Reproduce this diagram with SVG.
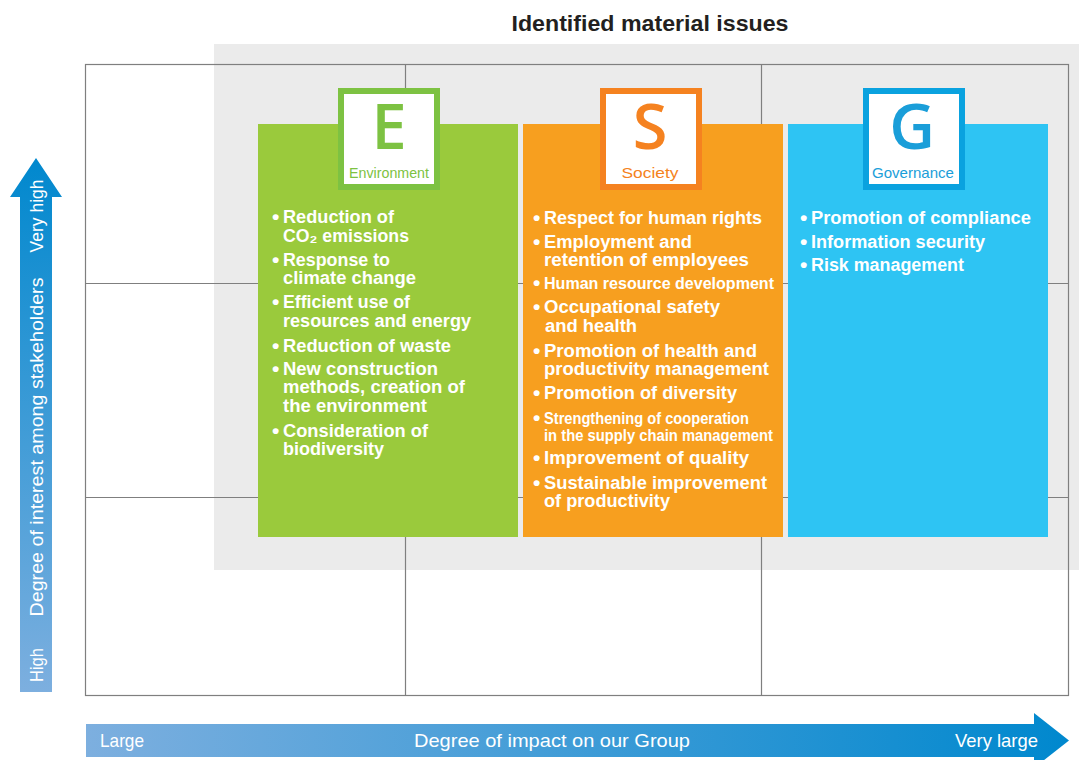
<svg xmlns="http://www.w3.org/2000/svg" width="1079" height="760" viewBox="0 0 1079 760">
  <defs>
    <linearGradient id="gv" x1="0" y1="1" x2="0" y2="0">
      <stop offset="0" stop-color="#7DAFDF"/>
      <stop offset="1" stop-color="#0088CE"/>
    </linearGradient>
    <linearGradient id="gh" x1="0" y1="0" x2="1" y2="0">
      <stop offset="0" stop-color="#7DAFDF"/>
      <stop offset="1" stop-color="#0088CE"/>
    </linearGradient>
    <style>
      .grid { fill: none; stroke: #7f7f7f; stroke-width: 1.2; }
      .item { font-family: "Liberation Sans", Arial, sans-serif; font-weight: bold; font-size: 18px; fill: #ffffff; }
      .small { font-size: 16px; }
      .bul { font-family: "Liberation Sans", Arial, sans-serif; font-weight: bold; font-size: 21px; fill: #ffffff; }
      .letter { font-family: "Open Sans", "Liberation Sans", sans-serif; font-weight: 600; font-size: 63px; text-anchor: middle; }
      .lab { font-family: "Liberation Sans", Arial, sans-serif; font-size: 14.5px; text-anchor: middle; }
      .axis { font-family: "Liberation Sans", Arial, sans-serif; font-size: 19px; fill: #ffffff; }
      .title { font-family: "Liberation Sans", Arial, sans-serif; font-weight: bold; font-size: 22px; fill: #231f20; text-anchor: middle; }
    </style>
  </defs>

  <rect width="1079" height="760" fill="#ffffff"/>

  <g id="material-area">
    <rect x="214" y="44" width="865" height="526" fill="#ebebeb"/>
    <text class="title" x="650" y="31" textLength="277" lengthAdjust="spacingAndGlyphs">Identified material issues</text>
  </g>

  <g id="grid">
    <rect class="grid" x="85.5" y="64.5" width="983" height="631"/>
    <line class="grid" x1="405.5" y1="64.5" x2="405.5" y2="695.5"/>
    <line class="grid" x1="761.5" y1="64.5" x2="761.5" y2="695.5"/>
    <line class="grid" x1="85.5" y1="283.5" x2="1068.5" y2="283.5"/>
    <line class="grid" x1="85.5" y1="497.5" x2="1068.5" y2="497.5"/>
  </g>

  <g id="environment">
    <rect x="258" y="124" width="260" height="413" fill="#9aca3c"/>
    <rect x="341" y="91" width="96" height="96" fill="#ffffff" stroke="#7dc242" stroke-width="6"/>
    <text class="letter" x="389" y="149" fill="#7dc242">E</text>
    <text class="lab" x="389" y="178" fill="#7dc242" textLength="80" lengthAdjust="spacingAndGlyphs">Environment</text>
    <text class="bul" x="272" y="224">•</text>
    <text class="item" x="283" y="223" textLength="111" lengthAdjust="spacingAndGlyphs">Reduction of</text>
    <text class="item" x="283" y="242" textLength="126" lengthAdjust="spacingAndGlyphs">CO₂ emissions</text>
    <text class="bul" x="272" y="267">•</text>
    <text class="item" x="283" y="266" textLength="107" lengthAdjust="spacingAndGlyphs">Response to</text>
    <text class="item" x="283" y="284" textLength="133" lengthAdjust="spacingAndGlyphs">climate change</text>
    <text class="bul" x="272" y="309">•</text>
    <text class="item" x="283" y="308" textLength="127" lengthAdjust="spacingAndGlyphs">Efficient use of</text>
    <text class="item" x="283" y="327" textLength="188" lengthAdjust="spacingAndGlyphs">resources and energy</text>
    <text class="bul" x="272" y="353">•</text>
    <text class="item" x="283" y="352" textLength="168" lengthAdjust="spacingAndGlyphs">Reduction of waste</text>
    <text class="bul" x="272" y="376">•</text>
    <text class="item" x="283" y="375" textLength="155" lengthAdjust="spacingAndGlyphs">New construction</text>
    <text class="item" x="283" y="393" textLength="182" lengthAdjust="spacingAndGlyphs">methods, creation of</text>
    <text class="item" x="283" y="412" textLength="144" lengthAdjust="spacingAndGlyphs">the environment</text>
    <text class="bul" x="272" y="438">•</text>
    <text class="item" x="283" y="437" textLength="145" lengthAdjust="spacingAndGlyphs">Consideration of</text>
    <text class="item" x="283" y="455" textLength="101" lengthAdjust="spacingAndGlyphs">biodiversity</text>
  </g>

  <g id="society">
    <rect x="523" y="124" width="260" height="413" fill="#f79f1f"/>
    <rect x="603" y="91" width="96" height="96" fill="#ffffff" stroke="#f58220" stroke-width="6"/>
    <text class="letter" x="650" y="149" fill="#f58220">S</text>
    <text class="lab" x="650" y="178" fill="#f58220" textLength="57" lengthAdjust="spacingAndGlyphs">Society</text>
    <text class="bul" x="533" y="225">•</text>
    <text class="item" x="544" y="224" textLength="218" lengthAdjust="spacingAndGlyphs">Respect for human rights</text>
    <text class="bul" x="533" y="249">•</text>
    <text class="item" x="544" y="248" textLength="148" lengthAdjust="spacingAndGlyphs">Employment and</text>
    <text class="item" x="544" y="266" textLength="205" lengthAdjust="spacingAndGlyphs">retention of employees</text>
    <text class="bul" x="533" y="290">•</text>
    <text class="item small" x="544" y="289" textLength="230" lengthAdjust="spacingAndGlyphs">Human resource development</text>
    <text class="bul" x="533" y="314">•</text>
    <text class="item" x="544" y="313" textLength="176" lengthAdjust="spacingAndGlyphs">Occupational safety</text>
    <text class="item" x="545" y="332" textLength="92" lengthAdjust="spacingAndGlyphs">and health</text>
    <text class="bul" x="533" y="358">•</text>
    <text class="item" x="544" y="357" textLength="213" lengthAdjust="spacingAndGlyphs">Promotion of health and</text>
    <text class="item" x="544" y="375" textLength="225" lengthAdjust="spacingAndGlyphs">productivity management</text>
    <text class="bul" x="533" y="400">•</text>
    <text class="item" x="544" y="399" textLength="193" lengthAdjust="spacingAndGlyphs">Promotion of diversity</text>
    <text class="bul" x="533" y="425">•</text>
    <text class="item small" x="544" y="424" textLength="205" lengthAdjust="spacingAndGlyphs">Strengthening of cooperation</text>
    <text class="item small" x="544" y="441" textLength="229" lengthAdjust="spacingAndGlyphs">in the supply chain management</text>
    <text class="bul" x="533" y="465">•</text>
    <text class="item" x="544" y="464" textLength="205" lengthAdjust="spacingAndGlyphs">Improvement of quality</text>
    <text class="bul" x="533" y="490">•</text>
    <text class="item" x="544" y="489" textLength="223" lengthAdjust="spacingAndGlyphs">Sustainable improvement</text>
    <text class="item" x="544" y="507" textLength="126" lengthAdjust="spacingAndGlyphs">of productivity</text>
  </g>

  <g id="governance">
    <rect x="788" y="124" width="260" height="413" fill="#2ec4f3"/>
    <rect x="866" y="91" width="96" height="96" fill="#ffffff" stroke="#0aa2df" stroke-width="6"/>
    <text class="letter" x="912" y="149" fill="#1a9ed9">G</text>
    <text class="lab" x="913" y="178" fill="#1a9ed9" textLength="82" lengthAdjust="spacingAndGlyphs">Governance</text>
    <text class="bul" x="800" y="225">•</text>
    <text class="item" x="811" y="224" textLength="220" lengthAdjust="spacingAndGlyphs">Promotion of compliance</text>
    <text class="bul" x="800" y="249">•</text>
    <text class="item" x="811" y="248" textLength="174" lengthAdjust="spacingAndGlyphs">Information security</text>
    <text class="bul" x="800" y="272">•</text>
    <text class="item" x="811" y="271" textLength="153" lengthAdjust="spacingAndGlyphs">Risk management</text>
  </g>

  <g id="axes">
    <g id="axis-vertical">
      <polygon points="20,692 20,197 10,197 36,158 62,197 52,197 52,692" fill="url(#gv)"/>
      <text class="axis" transform="translate(43,665) rotate(-90)" text-anchor="middle" textLength="34" lengthAdjust="spacingAndGlyphs">High</text>
      <text class="axis" transform="translate(43,447) rotate(-90)" text-anchor="middle" textLength="339" lengthAdjust="spacingAndGlyphs">Degree of interest among stakeholders</text>
      <text class="axis" transform="translate(43,216) rotate(-90)" text-anchor="middle" textLength="73" lengthAdjust="spacingAndGlyphs">Very high</text>
    </g>
    <g id="axis-horizontal">
      <polygon points="86,724 1034,724 1034,713 1069,740.5 1034,768 1034,757 86,757" fill="url(#gh)"/>
      <text class="axis" x="100" y="747" textLength="44" lengthAdjust="spacingAndGlyphs">Large</text>
      <text class="axis" x="414" y="747" textLength="276" lengthAdjust="spacingAndGlyphs">Degree of impact on our Group</text>
      <text class="axis" x="955" y="747" textLength="83" lengthAdjust="spacingAndGlyphs">Very large</text>
    </g>
  </g>
</svg>
